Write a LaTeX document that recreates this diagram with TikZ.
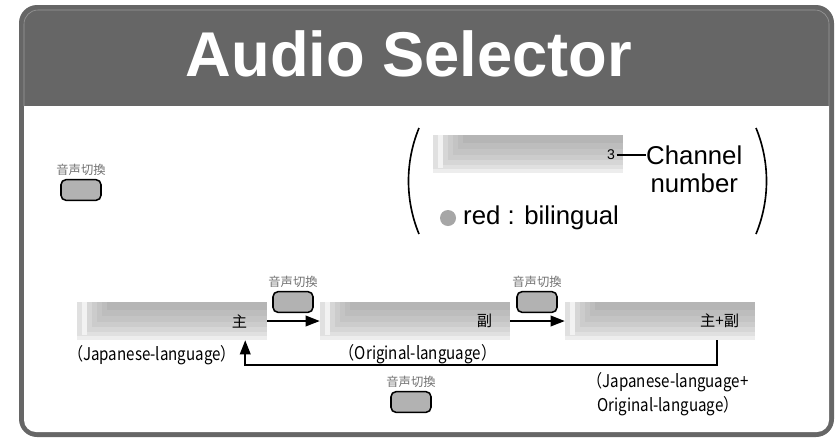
\documentclass[tikz,border=0pt]{standalone}
\usepackage{fontspec}
\setmainfont{Liberation Sans}
\newfontfamily\jpfont{Noto Sans CJK JP}
\newfontfamily\jpnarrow[FakeStretch=0.86]{Noto Sans CJK JP}
\usetikzlibrary{positioning,calc,arrows.meta}

% stepped grey fill of a screen node
\newcommand{\screenshade}[1]{%
  \foreach \dx/\dy/\c in {0/0/7, 0/4/12, 10/8/16} {
    \fill[black!\c] ($(#1.north west)+(\dx,0)$) rectangle ($(#1.south east)+(0,-\dy)$);
  }
  \fill[black!5] ($(#1.north west)+(5,0)$) rectangle ($(#1.south west)+(10,-5)$);
  \foreach \dx/\dy/\c in {15/13/20, 20/18/23, 25/24/26, 30/30/29} {
    \fill[black!\c] ($(#1.north west)+(\dx,0)$) rectangle ($(#1.south east)+(0,-\dy)$);
  }
}

\begin{document}
\begin{tikzpicture}[x=0.03cm, y=-0.03cm,
    screen/.style={rectangle, minimum width=5.7cm, minimum height=1.14cm, inner sep=0pt},
    button/.style={rectangle, rounded corners=0.15cm, draw=black, line width=1.3pt, fill=black!30,
      minimum width=1.2cm, minimum height=0.62cm, inner sep=0pt},
    keyname/.style={font=\jpfont\fontsize{10.5}{10.5}\selectfont, text=black!55, inner sep=0pt},
    barlabel/.style={font=\jpfont\fontsize{13}{13}\selectfont, inner sep=0pt},
    caption/.style={font=\jpnarrow\fontsize{15}{20.5}\selectfont, align=center, inner sep=0pt},
    bodytext/.style={font=\fontsize{22}{22}\selectfont, inner sep=0pt},
    arrow/.style={->, >={Triangle[length=12pt,width=9pt]}, line width=1.6pt}
]
\useasboundingbox (0,0) rectangle (840,440);

% Frame and header
\fill[black!60, rounded corners=0.54cm] (19,5) rectangle (834,437);
\fill[white] (24,106) -- (24,420) arc[start angle=180, end angle=90, radius=12]
  -- (817,432) arc[start angle=90, end angle=0, radius=12] -- (829,106) -- cycle;
\draw[black!40, line width=0.5pt] (24,106) -- (24,24) arc[start angle=180, end angle=270, radius=14]
  -- (815,10) arc[start angle=270, end angle=360, radius=14] -- (829,106);
\node[text=white, font=\bfseries\fontsize{54}{54}\selectfont, anchor=base, inner sep=0pt] (title) at (409,76) {Audio Selector};

% Remote key
\node[button] (btn0) at (81,190) {};
\node[keyname, above=0.1cm of btn0] (key0) {音声切換};

% Legend
\draw[line width=1.4pt] (419,128) .. controls (405,162) and (405,200) .. (419,234);
\draw[line width=1.4pt] (756,128) .. controls (770,162) and (770,200) .. (756,234);
\node[screen] (chbar) at (528,154) {};
\screenshade{chbar}
\node[font=\fontsize{12}{12}\selectfont, inner sep=1.5pt, anchor=east] (ch3) at (617,155) {3};
\node[bodytext, anchor=west] (chan) at (646,155) {Channel};
\node[bodytext, anchor=north] (chnum) at ($(chan.south)+(0,9)$) {number};
\draw[line width=1.5pt] (ch3.east) -- (chan.west);
\node[circle, fill=black!35, minimum size=0.48cm, inner sep=0pt] (dot) at (448,218) {};
\node[bodytext, anchor=west] (red) at (463,218) {red : bilingual};

% Screens
\node[screen] (bar1) at (172,321) {};
\node[screen] (bar2) at (415,321) {};
\node[screen] (bar3) at (660,321) {};
\screenshade{bar1}
\screenshade{bar2}
\screenshade{bar3}
\node[barlabel, anchor=east] (lab1) at ($(bar1.east)+(-20,0)$) {主};
\node[barlabel, anchor=east] (lab2) at ($(bar2.east)+(-18,0)$) {副};
\node[barlabel, anchor=east] (lab3) at ($(bar3.east)+(-16,0)$) {主+副};

% Keys between screens
\node[button] (btn1) at (293,302) {};
\node[keyname, above=0.1cm of btn1] (key1) {音声切換};
\node[button] (btn2) at (537,302) {};
\node[keyname, above=0.1cm of btn2] (key2) {音声切換};
\node[button] (btn3) at (411,402) {};
\node[keyname, above=0.1cm of btn3] (key3) {音声切換};

% Captions
\node[caption] (cap1) at (152,355) {（Japanese-language）};
\node[caption] (cap2) at (418,354) {（Original-language）};
\node[caption] (cap3) at (668,394) {（Japanese-language+\\Original-language）};

% Connections
\draw[arrow] (bar1) -- (bar2);
\draw[arrow] (bar2) -- (bar3);
\draw[arrow] ($(bar3.south east)+(-38,0)$) |- ($(bar1.south east)+(-22,25)$) -- ($(bar1.south east)+(-22,0)$);

\end{tikzpicture}
\end{document}
